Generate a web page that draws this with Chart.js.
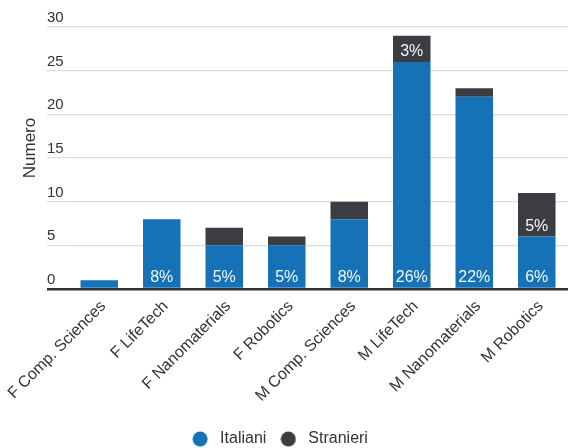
<!DOCTYPE html>
<html>
<head>
<meta charset="utf-8">
<script src="https://cdn.jsdelivr.net/npm/chart.js@4.4.1/dist/chart.umd.min.js"></script>
<style>
  html, body { margin: 0; padding: 0; background: #fff; }
  #wrap { width: 569px; height: 448px; }
</style>
</head>
<body>
<div id="wrap"><canvas id="graf"></canvas></div>
<script>
var categorie = ["F Comp. Sciences", "F LifeTech", "F Nanomaterials", "F Robotics",
                 "M Comp. Sciences", "M LifeTech", "M Nanomaterials", "M Robotics"];
var italiani = [1, 8, 5, 5, 8, 26, 22, 6];
var stranieri = [0, 0, 2, 1, 2, 3, 1, 5];
// etichette percentuali (null = non mostrata)
var italianiPct = [null, 8, 5, 5, 8, 26, 22, 6];
var stranieriPct = [null, null, null, null, null, 3, null, 5];
var tickY = [0, 5, 10, 15, 20, 25, 30];

var BLU = '#1572b6';
var GRIGIO = '#3c3d43';
var FONT = "'Liberation Sans', Arial, sans-serif";

// pallino per la legenda
function pallino(colore) {
  var cv = document.createElement('canvas');
  cv.width = 16;
  cv.height = 16;
  var c = cv.getContext('2d');
  c.fillStyle = colore;
  c.beginPath();
  c.arc(8, 8, 7.5, 0, Math.PI * 2);
  c.fill();
  return cv;
}
var pallini = [pallino(BLU), pallino(GRIGIO)];

// percentuali in bianco, in basso dentro ogni segmento
var etichettePct = {
  id: 'etichettePct',
  afterDatasetsDraw: function(chart) {
    var c = chart.ctx;
    var pcts = [italianiPct, stranieriPct];
    c.save();
    c.font = '16px ' + FONT;
    c.fillStyle = '#f4f6f8';
    c.textAlign = 'center';
    c.textBaseline = 'middle';
    chart.data.datasets.forEach(function(ds, d) {
      var meta = chart.getDatasetMeta(d);
      meta.data.forEach(function(bar, i) {
        var p = pcts[d][i];
        if (p == null) return;
        c.fillText(p + '%', bar.x, bar.base - 10);
      });
    });
    c.restore();
  }
};

// titolo asse y
var titoloY = {
  id: 'titoloY',
  afterDraw: function(chart) {
    var c = chart.ctx;
    var a = chart.chartArea;
    c.save();
    c.translate(30, (a.top + a.bottom) / 2 - 10);
    c.rotate(-Math.PI / 2);
    c.font = '17px ' + FONT;
    c.fillStyle = '#333';
    c.textAlign = 'center';
    c.textBaseline = 'middle';
    c.fillText('Numero', 0, 0);
    c.restore();
  }
};

// la legenda non segue il padding sinistro del grafico
var spostaLegenda = {
  id: 'spostaLegenda',
  afterLayout: function(chart) {
    var lg = chart.legend;
    lg.left = 0;
    lg.right = 556;
    lg.width = 556;
    var h = lg.height;
    lg.top = 421;
    lg.bottom = lg.top + h;
  }
};

var ctx = document.getElementById('graf').getContext('2d');
var grafico = new Chart(ctx, {
  type: 'bar',
  data: {
    labels: categorie,
    datasets: [{
      label: 'Italiani',
      data: italiani,
      backgroundColor: BLU
    }, {
      label: 'Stranieri',
      data: stranieri,
      backgroundColor: GRIGIO
    }]
  },
  options: {
    responsive: true,
    maintainAspectRatio: false,
    animation: false,
    datasets: {
      bar: { barPercentage: 0.6, categoryPercentage: 1 }
    },
    layout: { padding: { left: 47, right: 1, top: 27, bottom: 0 } },
    plugins: {
      tooltip: { enabled: false },
      legend: {
        position: 'bottom',
        labels: {
          usePointStyle: true,
          pointStyleWidth: 24,
          boxHeight: 10.4,
          padding: 10,
          color: '#333',
          font: { family: FONT, size: 16 },
          generateLabels: function(chart) {
            var items = Chart.defaults.plugins.legend.labels.generateLabels(chart);
            items.forEach(function(it, i) { it.pointStyle = pallini[i]; });
            return items;
          }
        }
      }
    },
    scales: {
      x: {
        stacked: true,
        afterFit: function(scale) { scale.height = 123; },
        grid: { display: false },
        border: { display: false },
        ticks: {
          color: '#333',
          minRotation: 45,
          maxRotation: 45,
          padding: 0,
          labelOffset: 4,
          font: { family: FONT, size: 16 }
        }
      },
      y: {
        stacked: true,
        min: 0,
        max: 30,
        afterFit: function(scale) { scale.width = 21; },
        afterBuildTicks: function(scale) {
          scale.ticks = tickY.map(function(v) { return { value: v }; });
        },
        border: { display: false },
        grid: {
          tickLength: 21,
          color: function(c) { return c.tick && c.tick.value === 0 ? '#333' : '#dcdcdc'; },
          lineWidth: function(c) { return c.tick && c.tick.value === 0 ? 2.5 : 1.2; }
        },
        ticks: {
          crossAlign: 'far',
          labelOffset: -9,
          padding: 0,
          color: '#333',
          font: { family: FONT, size: 15 }
        }
      }
    }
  },
  plugins: [etichettePct, titoloY, spostaLegenda]
});
</script>
</body>
</html>
